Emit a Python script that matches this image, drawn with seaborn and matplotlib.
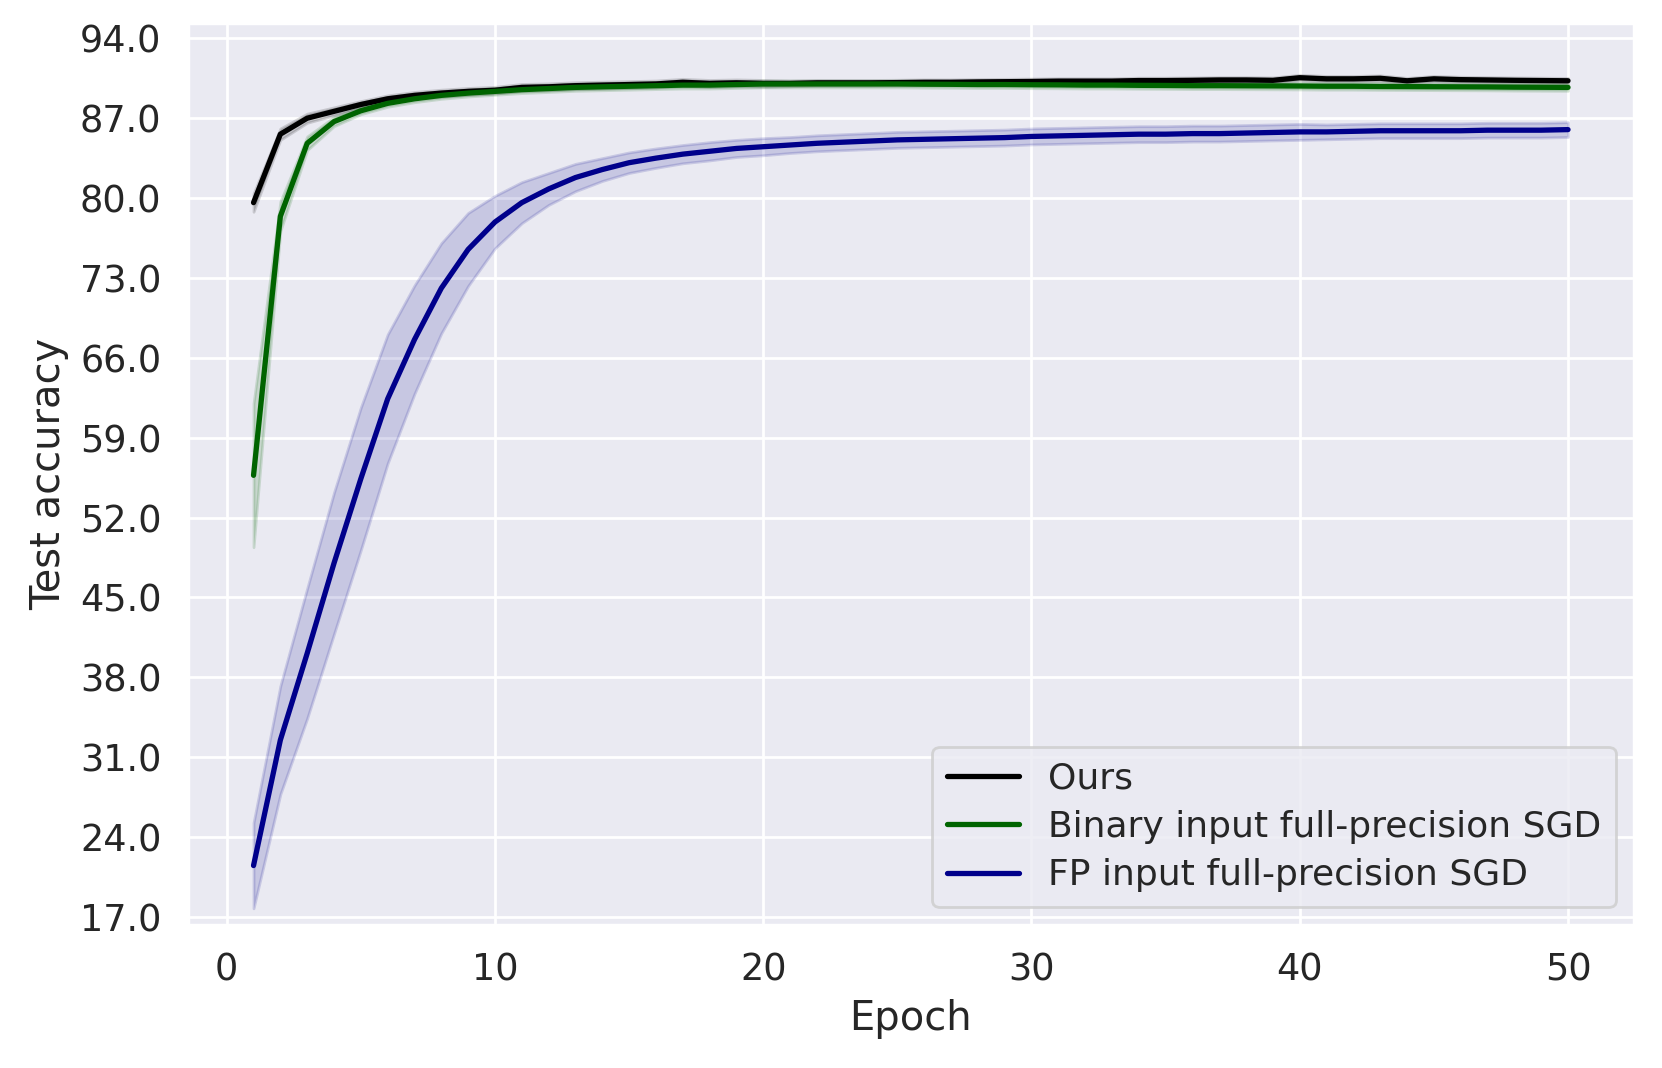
import numpy as np
import pandas as pd
import matplotlib
matplotlib.use("Agg")
import matplotlib.pyplot as plt
import seaborn as sns

epochs = list(range(1, 51))

ours_mean = [79.6, 85.6, 87.0, 87.6, 88.2, 88.7, 89.0, 89.2, 89.35, 89.45,
             89.7, 89.75, 89.85, 89.9, 89.95, 90.0, 90.15, 90.05, 90.1, 90.05,
             90.05, 90.1, 90.1, 90.1, 90.12, 90.15, 90.15, 90.18, 90.2, 90.22,
             90.25, 90.25, 90.25, 90.3, 90.3, 90.32, 90.35, 90.35, 90.32, 90.55,
             90.45, 90.45, 90.5, 90.28, 90.45, 90.38, 90.35, 90.32, 90.3, 90.28]
ours_std = [0.8, 0.5, 0.4, 0.35, 0.3, 0.3, 0.3, 0.3, 0.3, 0.3,
            0.3, 0.3, 0.3, 0.3, 0.3, 0.3, 0.3, 0.3, 0.3, 0.3,
            0.25, 0.25, 0.25, 0.25, 0.25, 0.25, 0.25, 0.25, 0.25, 0.25,
            0.25, 0.25, 0.25, 0.25, 0.25, 0.25, 0.25, 0.25, 0.25, 0.25,
            0.25, 0.25, 0.25, 0.25, 0.25, 0.25, 0.25, 0.25, 0.25, 0.25]

binary_mean = [55.7, 78.4, 84.8, 86.7, 87.65, 88.3, 88.7, 89.0, 89.2, 89.35,
               89.5, 89.6, 89.7, 89.75, 89.8, 89.85, 89.9, 89.9, 89.95, 90.0,
               90.0, 90.0, 90.0, 90.0, 90.0, 89.98, 89.97, 89.95, 89.95, 89.93,
               89.92, 89.9, 89.9, 89.88, 89.87, 89.85, 89.85, 89.84, 89.83, 89.82,
               89.8, 89.8, 89.78, 89.77, 89.76, 89.75, 89.74, 89.72, 89.71, 89.7]
binary_std = [6.3, 1.3, 0.6, 0.4, 0.3, 0.3, 0.3, 0.3, 0.3, 0.3,
              0.3, 0.3, 0.3, 0.3, 0.3, 0.3, 0.3, 0.3, 0.3, 0.3,
              0.3, 0.3, 0.3, 0.3, 0.3, 0.3, 0.3, 0.3, 0.3, 0.3,
              0.3, 0.3, 0.3, 0.3, 0.3, 0.3, 0.3, 0.3, 0.3, 0.3,
              0.3, 0.3, 0.3, 0.3, 0.3, 0.3, 0.3, 0.3, 0.3, 0.3]

fp_mean = [21.5, 32.5, 40.1, 48.0, 55.4, 62.4, 67.6, 72.1, 75.5, 77.9,
           79.6, 80.8, 81.8, 82.5, 83.1, 83.5, 83.85, 84.1, 84.35, 84.5,
           84.65, 84.8, 84.9, 85.0, 85.1, 85.15, 85.2, 85.25, 85.3, 85.4,
           85.45, 85.5, 85.55, 85.6, 85.6, 85.65, 85.65, 85.7, 85.75, 85.8,
           85.8, 85.85, 85.9, 85.9, 85.9, 85.9, 85.95, 85.95, 85.95, 86.0]
fp_std = [3.75, 4.75, 5.7, 6.2, 6.25, 5.65, 4.75, 3.95, 3.2, 2.3,
          1.8, 1.4, 1.2, 1.0, 0.9, 0.85, 0.8, 0.8, 0.75, 0.75,
          0.7, 0.7, 0.7, 0.7, 0.7, 0.7, 0.7, 0.7, 0.7, 0.7,
          0.7, 0.7, 0.7, 0.7, 0.7, 0.7, 0.7, 0.7, 0.7, 0.7,
          0.65, 0.65, 0.65, 0.65, 0.65, 0.65, 0.65, 0.65, 0.65, 0.65]

labels = ["Ours", "Binary input full-precision SGD", "FP input full-precision SGD"]
colors = ["black", "darkgreen", "darkblue"]
means = [ours_mean, binary_mean, fp_mean]
stds = [ours_std, binary_std, fp_std]

sns.set_theme(style="darkgrid", font_scale=1.2)

frames = []
for lab, m in zip(labels, means):
    frames.append(pd.DataFrame({"Epoch": epochs, "acc": m, "method": lab}))
data = pd.concat(frames, ignore_index=True)

fig, ax = plt.subplots(figsize=(8.31, 5.34), dpi=200)
fig.subplots_adjust(left=0.113, right=0.983, top=0.978, bottom=0.134)

sns.lineplot(data=data, x="Epoch", y="acc", hue="method",
             palette=dict(zip(labels, colors)), linewidth=1.9, ax=ax)

# shaded spread around each mean
for m, s, c in zip(means, stds, colors):
    m = np.array(m)
    s = np.array(s)
    ax.fill_between(epochs, m - s, m + s, color=c, alpha=0.15)

ticks = np.linspace(17, 94, 12)
ax.set_ylim(16.3, 95.3)
ax.set_yticks(ticks)
ax.set_yticklabels([f"{v:.1f}" for v in ticks])
ax.set_xlabel("Epoch")
ax.set_ylabel("Test accuracy")
ax.legend(loc="lower right", title=None, fontsize=13, labelspacing=0.4)

fig.savefig("out.png", dpi=200)
